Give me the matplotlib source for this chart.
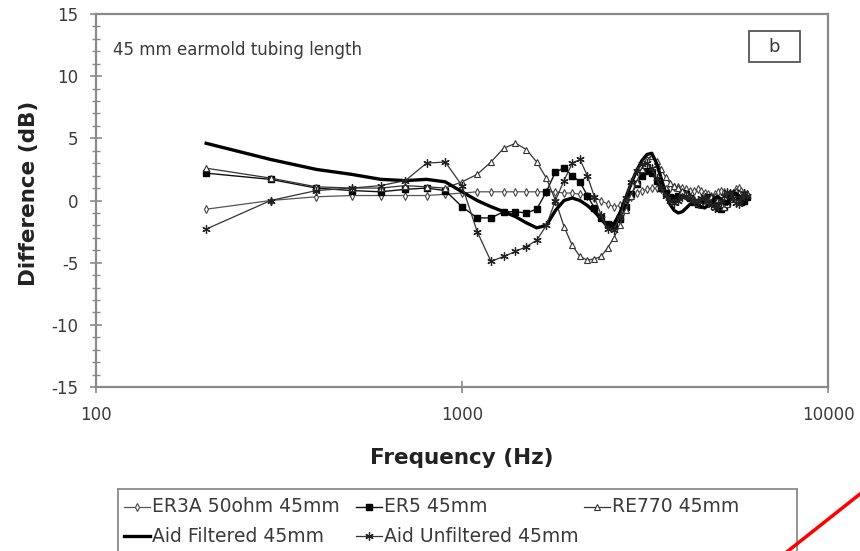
import numpy as np
import matplotlib
matplotlib.use("Agg")
import matplotlib.pyplot as plt
from matplotlib.lines import Line2D
from matplotlib.patches import Rectangle
from matplotlib.ticker import FixedLocator, MultipleLocator, NullLocator

plt.rcParams["axes.unicode_minus"] = False

# frequencies (Hz), 100 Hz steps
freq = np.arange(200, 6001, 100)

# difference curves (dB) for the 45 mm tubing
er3a = [-0.7, 0.0, 0.3, 0.4, 0.4, 0.4, 0.4, 0.5, 0.6, 0.7,
        0.7, 0.7, 0.7, 0.7, 0.7, 0.7, 0.7, 0.6, 0.6, 0.5,
        0.4, 0.2, 0.0, -0.3, -0.5, -0.4, -0.1, 0.3, 0.6, 0.8,
        0.9, 1.0, 1.0, 0.9, 0.9, 1.0, 1.1, 1.1, 1.0, 0.9,
        0.8, 0.8, 0.9, 0.8, 0.6, 0.5, 0.4, 0.5, 0.7, 0.8,
        0.7, 0.5, 0.4, 0.6, 0.9, 1.0, 0.8, 0.6, 0.5]
er5 = [2.2, 1.7, 1.0, 0.8, 0.7, 0.9, 1.0, 0.8, -0.5, -1.4,
       -1.4, -0.9, -0.9, -1.0, -0.7, 0.7, 2.3, 2.6, 2.0, 1.5,
       0.4, -0.6, -1.4, -1.9, -2.0, -1.5, -0.5, 0.5, 1.3, 2.0,
       2.4, 2.2, 1.6, 1.0, 0.6, 0.3, 0.2, 0.4, 0.6, 0.5,
       0.2, -0.1, -0.3, -0.2, 0.1, 0.3, 0.2, -0.2, -0.6, -0.7,
       -0.5, -0.2, 0.2, 0.5, 0.6, 0.3, -0.1, 0.0, 0.3]
re770 = [2.6, 1.8, 1.1, 1.0, 1.0, 1.2, 1.1, 1.0, 1.5, 2.1,
         3.1, 4.2, 4.6, 4.1, 3.1, 1.8, 0.0, -2.1, -3.6, -4.5,
         -4.8, -4.7, -4.5, -3.8, -3.0, -2.0, -0.8, 0.4, 1.5, 2.5,
         3.3, 3.6, 3.2, 2.5, 1.9, 1.4, 1.2, 1.0, 0.8, 0.6,
         0.4, 0.1, -0.2, -0.4, -0.3, 0.0, 0.3, 0.4, 0.1, -0.3,
         -0.5, -0.3, 0.1, 0.5, 0.8, 0.6, 0.2, 0.3, 0.6]
aid_filt = [4.6, 3.3, 2.5, 2.1, 1.7, 1.6, 1.7, 1.5, 0.7, 0.0,
            -0.5, -0.9, -1.3, -1.8, -2.2, -2.0, -0.8, 0.0, 0.2, 0.0,
            -0.4, -0.9, -1.5, -2.1, -1.9, -1.0, 0.2, 1.4, 2.4, 3.2,
            3.7, 3.8, 3.0, 1.8, 0.6, -0.3, -0.8, -1.0, -0.9, -0.6,
            -0.3, -0.2, -0.3, -0.5, -0.6, -0.4, -0.1, 0.2, 0.3, 0.1,
            -0.2, -0.3, 0.0, 0.4, 0.6, 0.4, 0.1, 0.0, 0.2]
aid_unfilt = [-2.3, 0.0, 0.8, 1.0, 1.2, 1.6, 3.0, 3.1, 1.2, -2.5,
              -4.9, -4.5, -4.1, -3.7, -3.2, -2.0, 0.0, 1.6, 3.0, 3.3,
              2.0, 0.3, -1.2, -2.3, -2.4, -1.3, 0.2, 1.5, 2.4, 2.9,
              3.0, 2.6, 1.8, 1.0, 0.4, 0.0, -0.2, 0.0, 0.3, 0.4,
              0.2, 0.0, 0.0, 0.2, 0.3, 0.0, -0.4, -0.6, -0.4, 0.0,
              0.4, 0.7, 0.6, 0.2, -0.2, -0.3, 0.2, 0.6, 0.4]

labels = ["ER3A 50ohm 45mm", "ER5 45mm", "RE770 45mm",
          "Aid Filtered 45mm", "Aid Unfiltered 45mm"]

txt = "#3a3a3a"
grey = "#8a8a8a"

styles = [
    dict(color="#555555", lw=0.9, marker="d", ms=4, mfc="white",
         mec="#444444", mew=0.8),
    dict(color="#111111", lw=1.0, marker="s", ms=4.5, mfc="black",
         mec="black"),
    dict(color="#333333", lw=0.9, marker="^", ms=4.5, mfc="white",
         mec="#333333", mew=0.8),
    dict(color="black", lw=2.4),
    dict(color="#333333", lw=0.9, marker=(6, 2, 0), ms=6, mec="#222222",
         mew=0.9),
]
series = [er3a, er5, re770, aid_filt, aid_unfilt]

fig = plt.figure(figsize=(8.6, 5.51), dpi=100)
ax = fig.add_axes([96 / 860, 1 - 387 / 551, 732 / 860, 373 / 551])

for vals, st in zip(series, styles):
    ax.plot(freq, vals, **st)

ax.set_xscale("log")
ax.set_xlim(100, 10000)
ax.set_ylim(-15, 15)
ax.xaxis.set_major_locator(FixedLocator([100, 1000, 10000]))
ax.xaxis.set_minor_locator(NullLocator())
ax.set_xticklabels(["100", "1000", "10000"])
ax.yaxis.set_major_locator(MultipleLocator(5))
ax.yaxis.set_minor_locator(MultipleLocator(1))

for s in ax.spines.values():
    s.set_color(grey)
    s.set_linewidth(1.6)
ax.tick_params(axis="both", which="both", direction="inout", color=grey,
               labelcolor=txt, labelsize=12)
ax.tick_params(axis="y", which="major", length=9, width=1.2, pad=8)
ax.tick_params(axis="y", which="minor", length=6, width=1.0)
ax.tick_params(axis="x", which="major", length=8, width=1.2, pad=10)

ax.set_xlabel("Frequency (Hz)", fontsize=15.5, fontweight="bold",
              color="#222222", labelpad=17)
ax.set_ylabel("Difference (dB)", fontsize=15.5, fontweight="bold",
              color="#222222")
ax.yaxis.set_label_coords(-0.078, 0.519)

ax.text(0.023, 0.9035, "45 mm earmold tubing length", transform=ax.transAxes,
        fontsize=12, color=txt, va="center", ha="left")
ax.add_patch(Rectangle((0.892, 0.871), 0.0697, 0.083, transform=ax.transAxes,
                       fill=False, edgecolor="#555555", lw=1.3))
ax.text(0.926, 0.9115, "b", transform=ax.transAxes, fontsize=13,
        color=txt, ha="center", va="center")

# legend box: three equal columns, two rows, runs off the bottom edge
lax = fig.add_axes([118 / 860, (551 - 566) / 551, 679 / 860, 77 / 551])
lax.set_xlim(0, 679)
lax.set_ylim(77, 0)
lax.set_xticks([])
lax.set_yticks([])
for s in lax.spines.values():
    s.set_color(grey)
    s.set_linewidth(1.3)
line_keys = ("color", "lw")
slots = [(0, 18), (232, 18), (460, 18), (0, 47), (232, 47)]
for (x0, y0), name, st in zip(slots, labels, styles):
    lax.plot([x0 + 6, x0 + 32], [y0, y0],
             **{k: v for k, v in st.items() if k in line_keys})
    if "marker" in st:
        lax.plot([x0 + 19], [y0], linestyle="none",
                 **{k: v for k, v in st.items() if k not in line_keys})
    lax.text(x0 + 34, y0, name, fontsize=13.5, color=txt, va="center",
             ha="left")

fig.add_artist(Line2D([788 / 860, 1.0], [0.0, 1 - 494 / 551],
                      transform=fig.transFigure, color="red", lw=2.5))

fig.savefig("out.png", dpi=100)
